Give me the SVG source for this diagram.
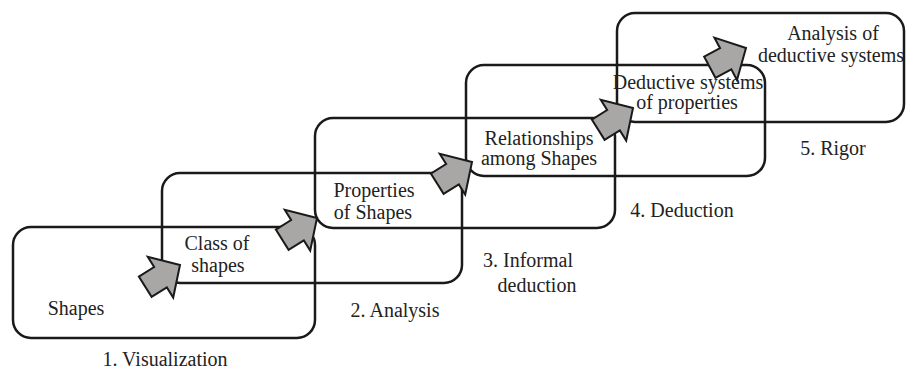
<svg xmlns="http://www.w3.org/2000/svg" width="906" height="370" viewBox="0 0 906 370">
<style>
.box{fill:none;stroke:#1a1a1a;stroke-width:2.5}
.arr{fill:#a9a6a6;stroke:#1a1a1a;stroke-width:2;stroke-linejoin:miter}
.t{font-family:'Liberation Serif','Tinos','Times New Roman','DejaVu Serif',serif;font-size:20px;fill:#222;text-anchor:middle}
</style>
<defs>
<path id="ah" d="M0,0 L-23,-24 L-23,-12 L-41,-12 L-41,12 L-23,12 L-23,24 Z"/>
</defs>
<rect width="906" height="370" fill="#fff"/>
<g id="level1">
<rect class="box" x="13" y="227" width="302" height="111" rx="18"/>
<text class="t" x="76" y="315">Shapes</text>
<text class="t" x="165" y="366">1. Visualization</text>
</g>
<g id="level2">
<rect class="box" x="162" y="173" width="300" height="110" rx="18"/>
<text class="t" x="217" y="250">Class of</text>
<text class="t" x="218" y="272">shapes</text>
<text class="t" x="395" y="317">2. Analysis</text>
</g>
<g id="level3">
<rect class="box" x="315" y="118" width="300" height="110" rx="18"/>
<text class="t" x="374" y="197">Properties</text>
<text class="t" x="373" y="219">of Shapes</text>
<text class="t" x="528" y="267">3. Informal</text>
<text class="t" x="537" y="292">deduction</text>
</g>
<g id="level4">
<rect class="box" x="466" y="65" width="299" height="111" rx="18"/>
<text class="t" x="539" y="145">Relationships</text>
<text class="t" x="539" y="165">among Shapes</text>
<text class="t" x="682" y="217">4. Deduction</text>
</g>
<g id="level5">
<rect class="box" x="617" y="13" width="287" height="109" rx="18"/>
<text class="t" x="688" y="89">Deductive systems</text>
<text class="t" x="687" y="109">of properties</text>
<text class="t" x="833" y="40">Analysis of</text>
<text class="t" x="831" y="62">deductive systems</text>
<text class="t" x="833" y="155">5. Rigor</text>
</g>
<g id="connectors">
<use href="#ah" class="arr" transform="translate(180,265) rotate(-32)"/>
<use href="#ah" class="arr" transform="translate(317,218) rotate(-32)"/>
<use href="#ah" class="arr" transform="translate(472,162) rotate(-32)"/>
<use href="#ah" class="arr" transform="translate(633,108) rotate(-32)"/>
<use href="#ah" class="arr" transform="translate(746,48) rotate(-28)"/>
</g>
</svg>
